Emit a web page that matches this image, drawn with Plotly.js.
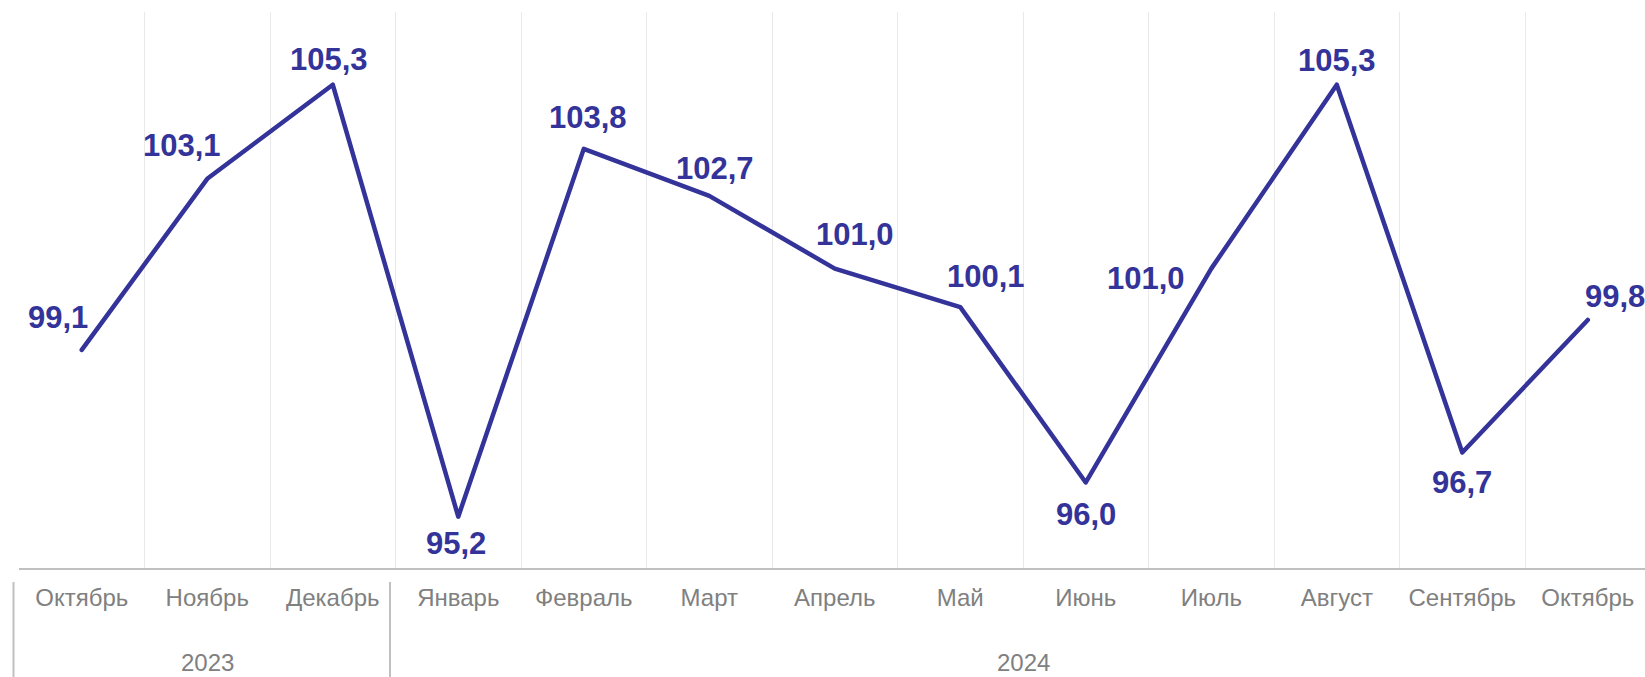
<!DOCTYPE html>
<html>
<head>
<meta charset="utf-8">
<script src="https://cdn.plot.ly/plotly-3.0.1.min.js"></script>
<style>
  html, body { margin: 0; padding: 0; background: #ffffff; }
  #chart { width: 1645px; height: 677px; }
  #chart .scatterlayer .js-line { stroke-linecap: round; stroke-linejoin: round; }
</style>
</head>
<body>
<div id="chart"></div>
<script>
// ---- data ----
const months = ["Октябрь", "Ноябрь", "Декабрь", "Январь", "Февраль", "Март", "Апрель", "Май", "Июнь", "Июль", "Август", "Сентябрь", "Октябрь"];
const years  = ["2023", "2023", "2023", "2024", "2024", "2024", "2024", "2024", "2024", "2024", "2024", "2024", "2024"];
const values = [99.1, 103.1, 105.3, 95.2, 103.8, 102.7, 101.0, 100.1, 96.0, 101.0, 105.3, 96.7, 99.8];

// ---- styling (label offsets in pixels relative to each point) ----
const labelShiftX = [-24, -25, -4, -2, 4, 6, 20, 26, 0, -65, 0, 0, 27];
const labelShiftY = [32, 33, 25, -27, 31, 27, 34, 31, -32, -10, 24, -30, 23];

const lineColor = "#333399";
const idx = values.map((_, i) => i);
const xRange = [-0.5, 12.456];

const fmt = v => v.toFixed(1).replace(".", ",");

const annotations = values.map((v, i) => ({
  x: idx[i], y: v, xref: "x", yref: "y",
  text: fmt(v), showarrow: false,
  xanchor: "center", yanchor: "middle",
  xshift: labelShiftX[i], yshift: labelShiftY[i],
  font: { family: "Liberation Sans, Arial, sans-serif", size: 31, color: lineColor, weight: 700 }
}));

// year groups
const groups = [];
years.forEach((y, i) => {
  const g = groups[groups.length - 1];
  if (g && g.year === y) { g.end = i; } else { groups.push({ year: y, start: i, end: i }); }
});
groups.forEach(g => {
  annotations.push({
    x: (idx[g.start] + idx[g.end]) / 2, xref: "x",
    y: 0, yref: "paper", yanchor: "bottom", yshift: -109, borderpad: 0,
    text: g.year, showarrow: false,
    font: { family: "Liberation Sans, Arial, sans-serif", size: 24, color: "#808080" }
  });
});

const toPaper = v => (v - xRange[0]) / (xRange[1] - xRange[0]);
const shapes = groups.map(g => ({
  type: "line", xref: "paper", yref: "paper",
  xsizemode: "pixel", xanchor: toPaper(idx[g.start] - 0.5), x0: -5.5, x1: -5.5,
  ysizemode: "pixel", yanchor: 0, y0: -14, y1: -112,
  line: { color: "#c0c0c0", width: 2 }
}));

const trace = {
  x: idx, y: values, type: "scatter", mode: "lines",
  line: { color: lineColor, width: 4.5 },
  hoverinfo: "skip", cliponaxis: false
};

const layout = {
  width: 1645, height: 677,
  margin: { l: 19, r: 0, t: 12, b: 109 },
  paper_bgcolor: "#ffffff", plot_bgcolor: "#ffffff",
  showlegend: false,
  xaxis: {
    range: xRange, fixedrange: true,
    tickmode: "array", tickvals: idx, ticktext: months,
    showgrid: false, zeroline: false,
    ticks: "", ticklabelstandoff: 7,
    tickfont: { family: "Liberation Sans, Arial, sans-serif", size: 24, color: "#808080" },
    showline: true, linecolor: "#c0c0c0", linewidth: 2,
    minor: { tickmode: "linear", tick0: -0.5, dtick: 1, showgrid: true, gridcolor: "#e9e9e9", gridwidth: 1, ticks: "" }
  },
  yaxis: {
    range: [94, 107], fixedrange: true,
    showgrid: false, zeroline: false, showticklabels: false, showline: false, ticks: ""
  },
  annotations: annotations,
  shapes: shapes
};

Plotly.newPlot("chart", [trace], layout, { staticPlot: true, displayModeBar: false });
</script>
</body>
</html>
